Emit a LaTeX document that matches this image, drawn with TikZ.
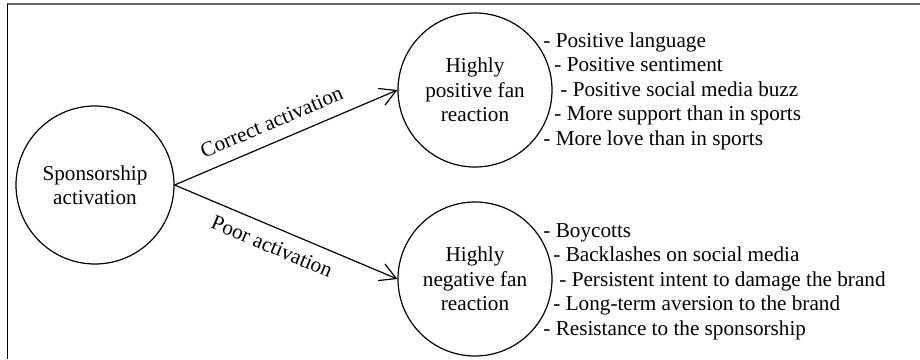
\documentclass[tikz,border=0pt]{standalone}
\usepackage{fontspec}
\setmainfont{Liberation Serif}
\usetikzlibrary{arrows.meta}
\begin{document}
\begin{tikzpicture}[x=.5pt,y=-.5pt,
    font=\fontsize{10.6pt}{12.25pt}\selectfont,
    circ/.style={draw,circle,line width=.6pt,inner sep=0pt,minimum size=77pt,align=center},
    arr/.style={line width=.6pt,-{Straight Barb[length=8pt,width=9pt,line width=.6pt]}},
    actlabel/.style={sloped,inner sep=0pt},
    fanitem/.style={anchor=base west,inner sep=0pt}]
    \useasboundingbox (0,0) rectangle (920,359);

    %% frame
    \draw[gray!80!black,line width=1pt] (7,4) -- (920,4);
    \draw[line width=.5pt] (7,4) -- (7,359);

    %% circles
    \node[circ,minimum size=79pt] (spons) at (95,185) {Sponsorship\\activation};
    \node[circ] (pos) at (475,90) {Highly\\positive fan\\reaction};
    \node[circ] (neg) at (475,279) {Highly\\negative fan\\reaction};

    %% arrows
    \draw[arr] (spons.east) -- node[actlabel,above=6pt,pos=.47] {Correct activation} (pos.west);
    \draw[arr] (spons.east) -- node[actlabel,below=5.5pt,pos=.47] {Poor activation} (neg.west);

    %% positive reactions
    \node[fanitem] (p1) at (543,47) {- Positive language};
    \node[fanitem] (p2) at (554,71.5) {- Positive sentiment};
    \node[fanitem] (p3) at (560,96) {- Positive social media buzz};
    \node[fanitem] (p4) at (554,120.5) {- More support than in sports};
    \node[fanitem] (p5) at (543,145) {- More love than in sports};

    %% negative reactions
    \node[fanitem] (n1) at (543,237) {- Boycotts};
    \node[fanitem] (n2) at (553,261.5) {- Backlashes on social media};
    \node[fanitem] (n3) at (559,286) {- Persistent intent to damage the brand};
    \node[fanitem] (n4) at (553,310.5) {- Long-term aversion to the brand};
    \node[fanitem] (n5) at (543,335) {- Resistance to the sponsorship};
\end{tikzpicture}
\end{document}
